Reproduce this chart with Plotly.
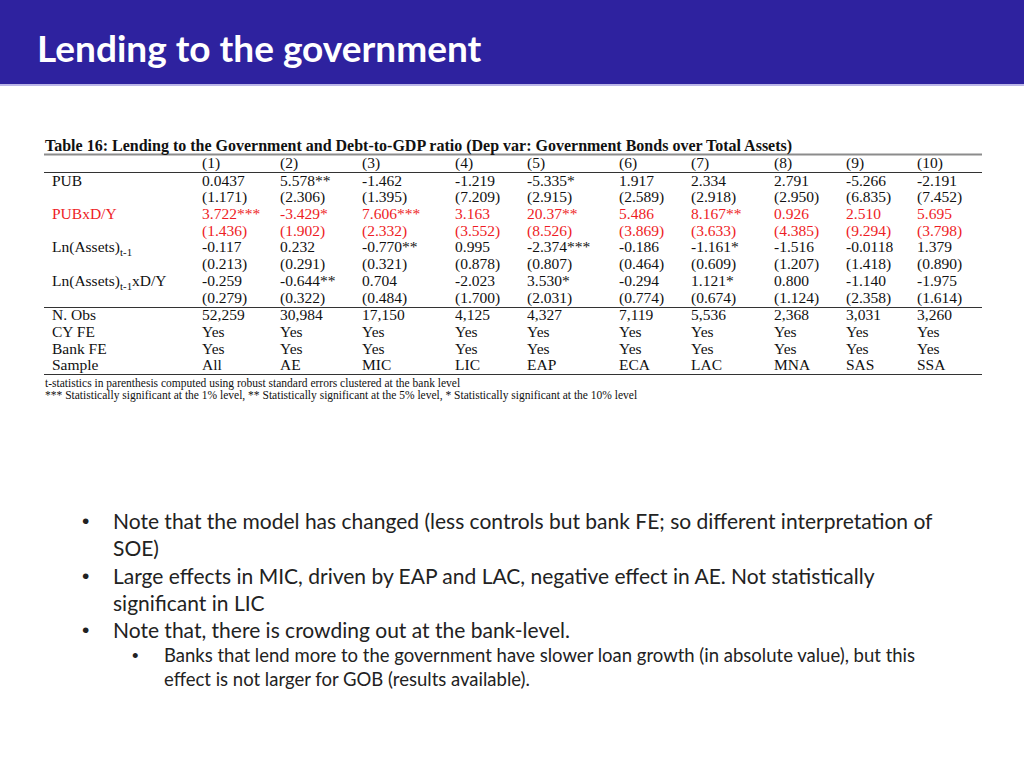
import plotly.graph_objects as go

# ---------------- data ----------------
SLIDE_TITLE = "Lending to the government"
TABLE_TITLE = "Table 16: Lending to the Government and Debt-to-GDP ratio (Dep var: Government Bonds over Total Assets)"
COLUMNS = ["(1)", "(2)", "(3)", "(4)", "(5)", "(6)", "(7)", "(8)", "(9)", "(10)"]
ROW_LABELS = ["", "PUB", "", "PUBxD/Y", "", "Ln(Assets)<sub>t-1</sub>", "",
              "Ln(Assets)<sub>t-1</sub>xD/Y", "", "N. Obs", "CY FE", "Bank FE", "Sample"]
PUB_COEF = ["0.0437", "5.578**", "-1.462", "-1.219", "-5.335*", "1.917", "2.334", "2.791", "-5.266", "-2.191"]
PUB_SE = ["(1.171)", "(2.306)", "(1.395)", "(7.209)", "(2.915)", "(2.589)", "(2.918)", "(2.950)", "(6.835)", "(7.452)"]
PUBDY_COEF = ["3.722***", "-3.429*", "7.606***", "3.163", "20.37**", "5.486", "8.167**", "0.926", "2.510", "5.695"]
PUBDY_SE = ["(1.436)", "(1.902)", "(2.332)", "(3.552)", "(8.526)", "(3.869)", "(3.633)", "(4.385)", "(9.294)", "(3.798)"]
LNA_COEF = ["-0.117", "0.232", "-0.770**", "0.995", "-2.374***", "-0.186", "-1.161*", "-1.516", "-0.0118", "1.379"]
LNA_SE = ["(0.213)", "(0.291)", "(0.321)", "(0.878)", "(0.807)", "(0.464)", "(0.609)", "(1.207)", "(1.418)", "(0.890)"]
LNADY_COEF = ["-0.259", "-0.644**", "0.704", "-2.023", "3.530*", "-0.294", "1.121*", "0.800", "-1.140", "-1.975"]
LNADY_SE = ["(0.279)", "(0.322)", "(0.484)", "(1.700)", "(2.031)", "(0.774)", "(0.674)", "(1.124)", "(2.358)", "(1.614)"]
N_OBS = ["52,259", "30,984", "17,150", "4,125", "4,327", "7,119", "5,536", "2,368", "3,031", "3,260"]
CY_FE = ["Yes", "Yes", "Yes", "Yes", "Yes", "Yes", "Yes", "Yes", "Yes", "Yes"]
BANK_FE = ["Yes", "Yes", "Yes", "Yes", "Yes", "Yes", "Yes", "Yes", "Yes", "Yes"]
SAMPLE = ["All", "AE", "MIC", "LIC", "EAP", "ECA", "LAC", "MNA", "SAS", "SSA"]
FOOTNOTES = [
    "t-statistics in parenthesis computed using robust standard errors clustered at the bank level",
    "*** Statistically significant at the 1% level, ** Statistically significant at the 5% level, * Statistically significant at the 10% level",
]
BULLETS = [
    (0, "Note that the model has changed (less controls but bank FE; so different interpretation of"),
    (0, None, "SOE)"),
    (0, "Large effects in MIC, driven by EAP and LAC, negative effect in AE. Not statistically"),
    (0, None, "significant in LIC"),
    (0, "Note that, there is crowding out at the bank-level."),
    (1, "Banks that lend more to the government have slower loan growth (in absolute value), but this"),
    (1, None, "effect is not larger for GOB (results available)."),
]

# ---------------- layout constants (pixels) ----------------
W, H = 1024, 768
LABEL_X = 52
COL_X = [202, 280, 362, 455, 527, 619, 691, 774, 846, 917]
ROW_Y = [164, 182, 198.5, 215, 232, 248.5, 265.5, 282.5, 299.5, 316.5, 333, 350, 366.5]
RED_ROWS = {3, 4}
RED = "#ee1c25"
INK = "#111111"
SERIF = "Liberation Serif, Times New Roman, serif"
SANS = "Lato, Carlito, Calibri, sans-serif"
CELL_SIZE = 15.5

body = [PUB_COEF, PUB_SE, PUBDY_COEF, PUBDY_SE, LNA_COEF, LNA_SE,
        LNADY_COEF, LNADY_SE, N_OBS, CY_FE, BANK_FE, SAMPLE]

fig = go.Figure()

# label column (only non-empty labels)
lab_idx = [i for i, t in enumerate(ROW_LABELS) if t]
fig.add_trace(go.Scatter(
    x=[LABEL_X] * len(lab_idx), y=[ROW_Y[i] for i in lab_idx], mode="text",
    text=[ROW_LABELS[i] for i in lab_idx],
    textposition="middle right",
    textfont=dict(family=SERIF, size=CELL_SIZE,
                  color=[RED if i in RED_ROWS else INK for i in lab_idx]),
    hoverinfo="skip", showlegend=False))

# numeric columns
for j, cx in enumerate(COL_X):
    texts = [COLUMNS[j]] + [row[j] for row in body]
    fig.add_trace(go.Scatter(
        x=[cx] * len(texts), y=ROW_Y, mode="text", text=texts,
        textposition="middle right",
        textfont=dict(family=SERIF, size=CELL_SIZE,
                      color=[RED if i in RED_ROWS else INK for i in range(len(texts))]),
        hoverinfo="skip", showlegend=False))

shapes = [
    dict(type="rect", xref="x", yref="y", x0=0, x1=W, y0=0, y1=84,
         fillcolor="#2e229f", line=dict(width=0), layer="below"),
    dict(type="line", xref="x", yref="y", x0=0, x1=W, y0=85, y1=85,
         line=dict(color="#a49ee0", width=1.5)),
    dict(type="line", xref="x", yref="y", x0=44, x1=982, y0=154.5, y1=154.5,
         line=dict(color="#8c8c8c", width=2)),
    dict(type="line", xref="x", yref="y", x0=44, x1=982, y0=172.5, y1=172.5,
         line=dict(color="#333333", width=1)),
    dict(type="line", xref="x", yref="y", x0=44, x1=982, y0=307.5, y1=307.5,
         line=dict(color="#333333", width=1)),
    dict(type="line", xref="x", yref="y", x0=44, x1=982, y0=374.5, y1=374.5,
         line=dict(color="#333333", width=1)),
]

annotations = [
    dict(text="<b>" + SLIDE_TITLE + "</b>", x=35, y=47, xref="x", yref="y",
         xanchor="left", yanchor="middle", showarrow=False,
         font=dict(family=SANS, size=37, color="white")),
    dict(text="<b>" + TABLE_TITLE + "</b>", x=43, y=145.5, xref="x", yref="y",
         xanchor="left", yanchor="middle", showarrow=False,
         font=dict(family=SERIF, size=16, color=INK)),
    dict(text=FOOTNOTES[0], x=43, y=383, xref="x", yref="y",
         xanchor="left", yanchor="middle", showarrow=False,
         font=dict(family=SERIF, size=11.5, color=INK)),
    dict(text=FOOTNOTES[1], x=43, y=395.5, xref="x", yref="y",
         xanchor="left", yanchor="middle", showarrow=False,
         font=dict(family=SERIF, size=11.5, color=INK)),
]

BULLET_Y = [520, 547, 575, 602, 629, 655, 679]
for (item, by) in zip(BULLETS, BULLET_Y):
    level = item[0]
    size = 21 if level == 0 else 18.5
    bx = 80 if level == 0 else 130
    tx = 111 if level == 0 else 162
    if item[1] is not None:
        annotations.append(dict(text="\u2022", x=bx, y=by, xref="x", yref="y",
                                xanchor="left", yanchor="middle", showarrow=False,
                                font=dict(family="Liberation Sans, Arial, sans-serif", size=size,
                                          color="#222222")))
        txt = item[1]
    else:
        txt = item[2]
    annotations.append(dict(text=txt, x=tx, y=by, xref="x", yref="y",
                            xanchor="left", yanchor="middle", showarrow=False,
                            font=dict(family=SANS, size=size, color="#222222")))

fig.update_layout(
    width=W, height=H, margin=dict(l=0, r=0, t=0, b=0),
    paper_bgcolor="white", plot_bgcolor="white",
    xaxis=dict(range=[0, W], visible=False, fixedrange=True),
    yaxis=dict(range=[H, 0], visible=False, fixedrange=True),
    shapes=shapes, annotations=annotations, showlegend=False,
)

fig.write_html("out.html", config={"displayModeBar": False},
               post_script="document.body.style.margin='0';document.body.style.padding='0';document.body.style.overflow='hidden';")
